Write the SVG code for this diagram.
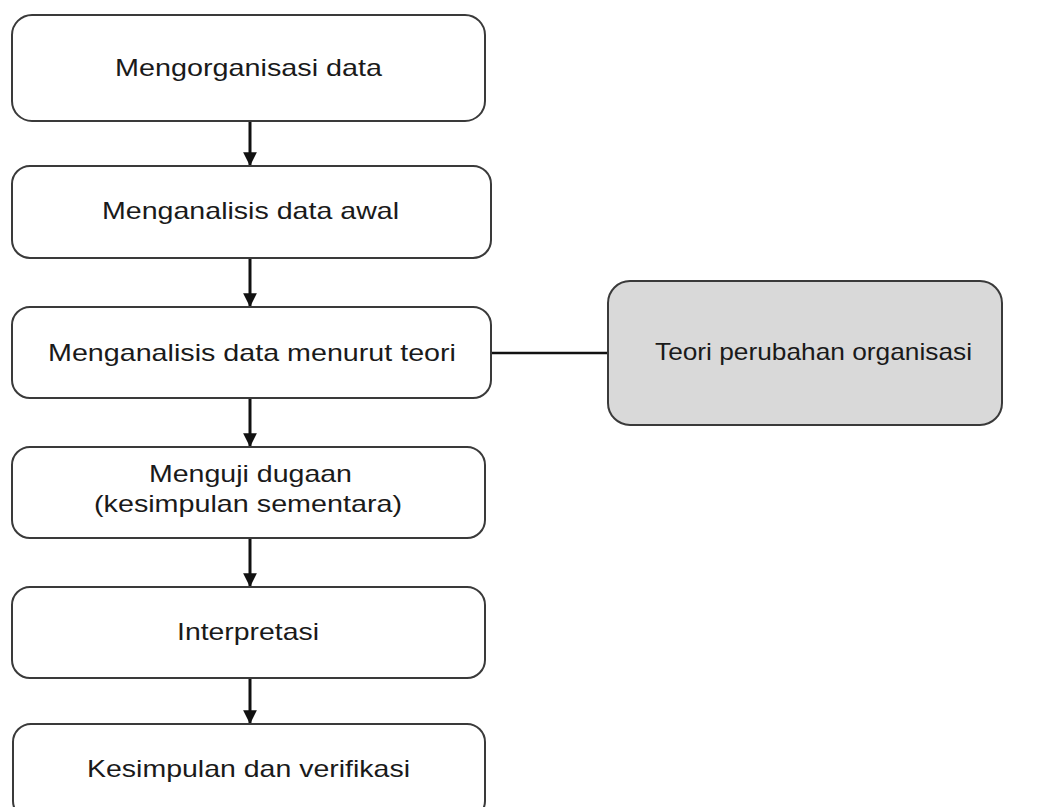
<svg xmlns="http://www.w3.org/2000/svg" width="1048" height="807" viewBox="0 0 1048 807">
<defs>
<style>
.box{fill:#ffffff;stroke:#3a3a3a;stroke-width:2}
.gbox{fill:#d9d9d9;stroke:#3a3a3a;stroke-width:2}
.t{font-family:"Liberation Sans",Arial,sans-serif;font-size:24px;fill:#1a1a1a;text-anchor:middle}
.c{stroke:#111;stroke-width:3;fill:none}
</style>
<marker id="ah" viewBox="0 0 10 10" refX="10" refY="5" markerWidth="4.6" markerHeight="4.6" markerUnits="strokeWidth" orient="auto">
<path d="M0,0 L10,5 L0,10 Z" fill="#111"/>
</marker>
</defs>
<rect width="1048" height="807" fill="#ffffff"/>
<g id="connectors">
<line class="c" x1="250" y1="121" x2="250" y2="166" marker-end="url(#ah)"/>
<line class="c" x1="250" y1="258" x2="250" y2="307" marker-end="url(#ah)"/>
<line class="c" x1="250" y1="398" x2="250" y2="447" marker-end="url(#ah)"/>
<line class="c" x1="250" y1="538" x2="250" y2="587" marker-end="url(#ah)"/>
<line class="c" x1="250" y1="678" x2="250" y2="724" marker-end="url(#ah)"/>
<line class="c" x1="491" y1="353" x2="608" y2="353" style="stroke-width:2.5"/>
</g>
<g id="n1">
<rect class="box" x="12" y="15" width="473" height="106" rx="20"/>
<text class="t" x="248.5" y="76" textLength="267" lengthAdjust="spacingAndGlyphs">Mengorganisasi data</text>
</g>
<g id="n2">
<rect class="box" x="12" y="166" width="479" height="92" rx="18"/>
<text class="t" x="250.5" y="219" textLength="297" lengthAdjust="spacingAndGlyphs">Menganalisis data awal</text>
</g>
<g id="n3">
<rect class="box" x="12" y="307" width="479" height="91" rx="18"/>
<text class="t" x="252" y="361" textLength="408" lengthAdjust="spacingAndGlyphs">Menganalisis data menurut teori</text>
</g>
<g id="n4">
<rect class="box" x="12" y="447" width="473" height="91" rx="18"/>
<text class="t" x="250.5" y="482" textLength="203" lengthAdjust="spacingAndGlyphs">Menguji dugaan</text>
<text class="t" x="248" y="512" textLength="308" lengthAdjust="spacingAndGlyphs">(kesimpulan sementara)</text>
</g>
<g id="n5">
<rect class="box" x="12" y="587" width="473" height="91" rx="18"/>
<text class="t" x="248" y="640" textLength="142" lengthAdjust="spacingAndGlyphs">Interpretasi</text>
</g>
<g id="n6">
<rect class="box" x="13" y="724" width="472" height="95" rx="18"/>
<text class="t" x="248.5" y="777" textLength="323" lengthAdjust="spacingAndGlyphs">Kesimpulan dan verifikasi</text>
</g>
<g id="n7">
<rect class="gbox" x="608" y="281" width="394" height="144" rx="22"/>
<text class="t" x="813.5" y="360" textLength="317" lengthAdjust="spacingAndGlyphs">Teori perubahan organisasi</text>
</g>
</svg>
